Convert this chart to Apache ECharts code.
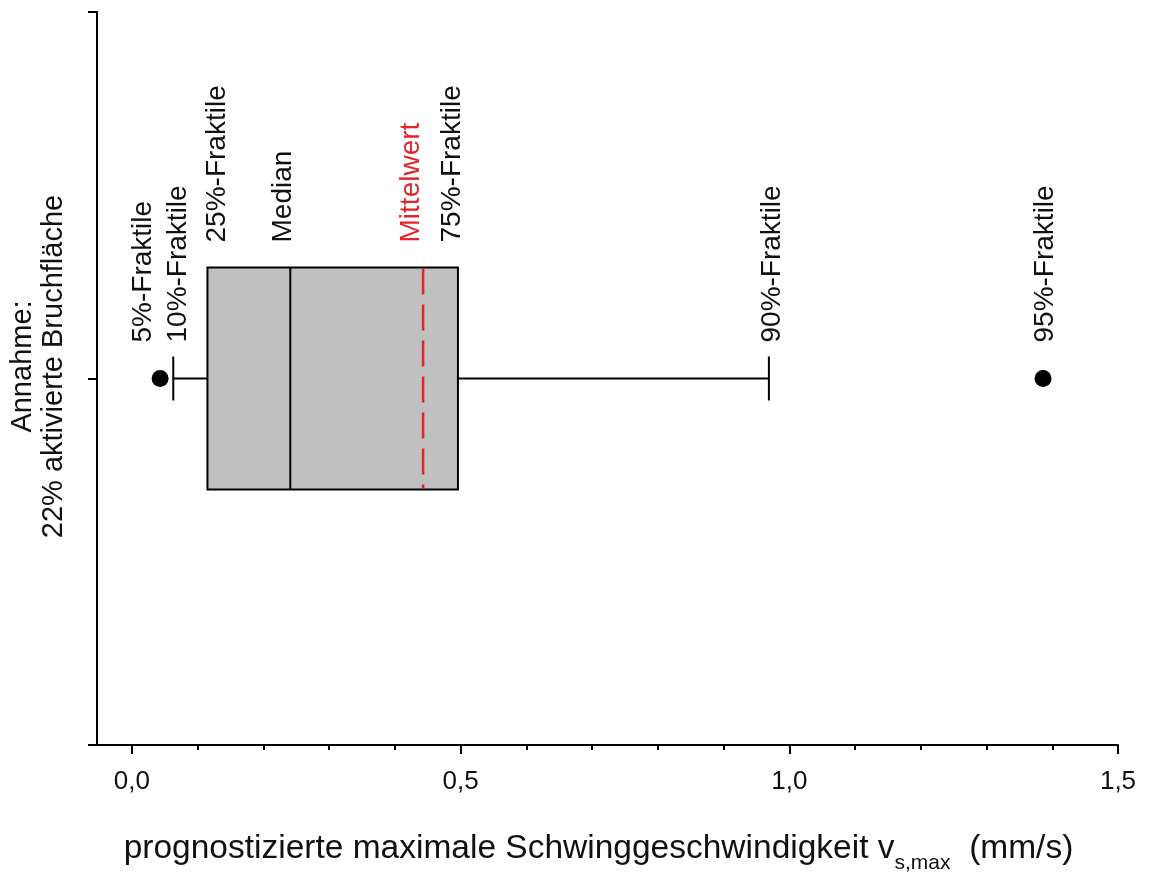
<!DOCTYPE html>
<html>
<head>
<meta charset="utf-8">
<script src="https://cdn.jsdelivr.net/npm/echarts@6/dist/echarts.min.js"></script>
<style>
html,body{margin:0;padding:0;background:#fff;}
#chart{width:1151px;height:875px;}
</style>
</head>
<body>
<div id="chart"></div>
<script>
// ---- data ----
const categoryPosition = 1;               // the single case sits at the middle of the y axis
const yAxisName = ['Annahme:', '22% aktivierte Bruchfläche'];
const statNames = ['5%-Fraktile', '10%-Fraktile', '25%-Fraktile', 'Median', 'Mittelwert', '75%-Fraktile', '90%-Fraktile', '95%-Fraktile'];
const statValues = [0.043, 0.063, 0.115, 0.241, 0.443, 0.496, 0.969, 1.386];
const outlierValues = [0.043, 1.386];     // 5% and 95% fractiles shown as dots
const xTickValues = [0, 0.5, 1.0, 1.5];
const xTickLabels = ['0,0', '0,5', '1,0', '1,5'];
const xMinorTickValues = [0.1, 0.2, 0.3, 0.4, 0.6, 0.7, 0.8, 0.9, 1.1, 1.2, 1.3, 1.4];
const xAxisTitle = ['prognostizierte maximale Schwinggeschwindigkeit v', 's,max', '  (mm/s)'];

// ---- layout / style (not data) ----
const FONT = '"Liberation Sans", Arial, sans-serif';
const labelDx = [-17, 5, 10, -7, -12, -6, 3, 2];     // small horizontal nudges of the annotation texts
const labelKind = ['w', 'w', 'b', 'b', 'b', 'b', 'w', 'w']; // w: above whisker, b: above box
const RED = '#e5232b';

const chart = echarts.init(document.getElementById('chart'), null, {renderer: 'canvas'});

function fmtTick(v) {
  let best = 0, bd = Infinity;
  xTickValues.forEach((t, i) => { const d = Math.abs(t - v); if (d < bd) { bd = d; best = i; } });
  return bd < 1e-6 ? xTickLabels[best] : '';
}

const option = {
  backgroundColor: '#fff',
  animation: false,
  grid: {left: 97, right: 33, top: 12, bottom: 130, containLabel: false, outerBoundsMode: 'none'},
  xAxis: [{
    type: 'value', min: -0.053, max: 1.5, position: 'bottom', offset: 0,
    axisLine: {show: true, onZero: false, lineStyle: {color: '#000', width: 2}},
    axisTick: {show: true, customValues: xTickValues, length: 9, lineStyle: {color: '#000', width: 2}},
    axisLabel: {show: true, customValues: xTickValues, formatter: fmtTick, margin: 24,
      fontSize: 26, fontFamily: FONT, color: '#111'},
    splitLine: {show: false},
    name: '{m|' + xAxisTitle[0] + '}{s|' + xAxisTitle[1] + '}{m|' + xAxisTitle[2] + '}',
    nameLocation: 'middle', nameGap: 86,
    nameTextStyle: {
      fontFamily: FONT, color: '#111', padding: [0, 18, 0, 0],
      rich: {
        m: {fontSize: 33.5, fontFamily: FONT, color: '#111', lineHeight: 36},
        s: {fontSize: 21, fontFamily: FONT, color: '#111', lineHeight: 22, verticalAlign: 'top', padding: [22, 0, 0, 0]}
      }
    }
  }, {
    type: 'value', min: -0.053, max: 1.5, position: 'bottom', offset: 0,
    axisLine: {show: false, onZero: false},
    axisTick: {show: true, customValues: xMinorTickValues, length: 5, lineStyle: {color: '#000', width: 2}},
    axisLabel: {show: false},
    splitLine: {show: false}
  }],
  yAxis: {
    type: 'value', min: 0, max: 2, interval: 1, position: 'left',
    axisLine: {show: true, onZero: false, lineStyle: {color: '#000', width: 2}},
    axisTick: {show: true, length: 9, lineStyle: {color: '#000', width: 2}},
    axisLabel: {show: false},
    splitLine: {show: false},
    name: yAxisName.join('\n'),
    nameLocation: 'middle', nameRotate: 90, nameGap: 28,
    nameTextStyle: {fontSize: 29, fontFamily: FONT, color: '#111', lineHeight: 31, align: 'center',
      padding: [0, 0, 0, 24]}
  },
  series: [{
    type: 'custom',
    xAxisIndex: 0,
    coordinateSystem: 'cartesian2d',
    data: [[categoryPosition].concat(statValues)],
    encode: {y: 0, x: [1, 2, 3, 4, 5, 6, 7, 8]},
    clip: false,
    renderItem: function (params, api) {
      const yv = api.value(0);
      const v = i => api.value(i + 1);
      const px = x => api.coord([x, yv])[0];
      const cy = api.coord([0, yv])[1];
      const boxHalf = api.size([0, 0.303])[1];
      const capHalf = api.size([0, 0.06])[1];
      const q1 = px(v(2)), q3 = px(v(5)), med = px(v(3)), mean = px(v(4));
      const p10 = px(v(1)), p90 = px(v(6));
      const black = {stroke: '#000', lineWidth: 2};
      const children = [
        {type: 'line', shape: {x1: p10, y1: cy, x2: q1, y2: cy}, style: black},
        {type: 'line', shape: {x1: q3, y1: cy, x2: p90, y2: cy}, style: black},
        {type: 'line', shape: {x1: p10, y1: cy - capHalf, x2: p10, y2: cy + capHalf}, style: black},
        {type: 'line', shape: {x1: p90, y1: cy - capHalf, x2: p90, y2: cy + capHalf}, style: black},
        {type: 'rect', shape: {x: q1, y: cy - boxHalf, width: q3 - q1, height: 2 * boxHalf},
          style: {fill: '#c0c0c0', stroke: '#000', lineWidth: 2}},
        {type: 'line', shape: {x1: med, y1: cy - boxHalf, x2: med, y2: cy + boxHalf}, style: black},
        {type: 'line', shape: {x1: mean, y1: cy - boxHalf + 1, x2: mean, y2: cy + boxHalf - 1},
          style: {stroke: RED, lineWidth: 2.5, lineDash: [26, 10]}}
      ];
      statNames.forEach((name, i) => {
        const x = px(v(i)) + labelDx[i];
        const y = labelKind[i] === 'b' ? cy - boxHalf - 25 : cy - 36;
        children.push({
          type: 'text', x: x, y: y, rotation: Math.PI / 2,
          style: {text: name, fontSize: 28, fontFamily: FONT,
            fill: name === 'Mittelwert' ? RED : '#111', align: 'left', verticalAlign: 'middle'}
        });
      });
      return {type: 'group', children: children};
    }
  }, {
    type: 'scatter',
    xAxisIndex: 0,
    symbol: 'circle', symbolSize: 17,
    itemStyle: {color: '#000', opacity: 1},
    data: outlierValues.map(x => [x, categoryPosition]),
    z: 5
  }]
};
chart.setOption(option);
</script>
</body>
</html>
